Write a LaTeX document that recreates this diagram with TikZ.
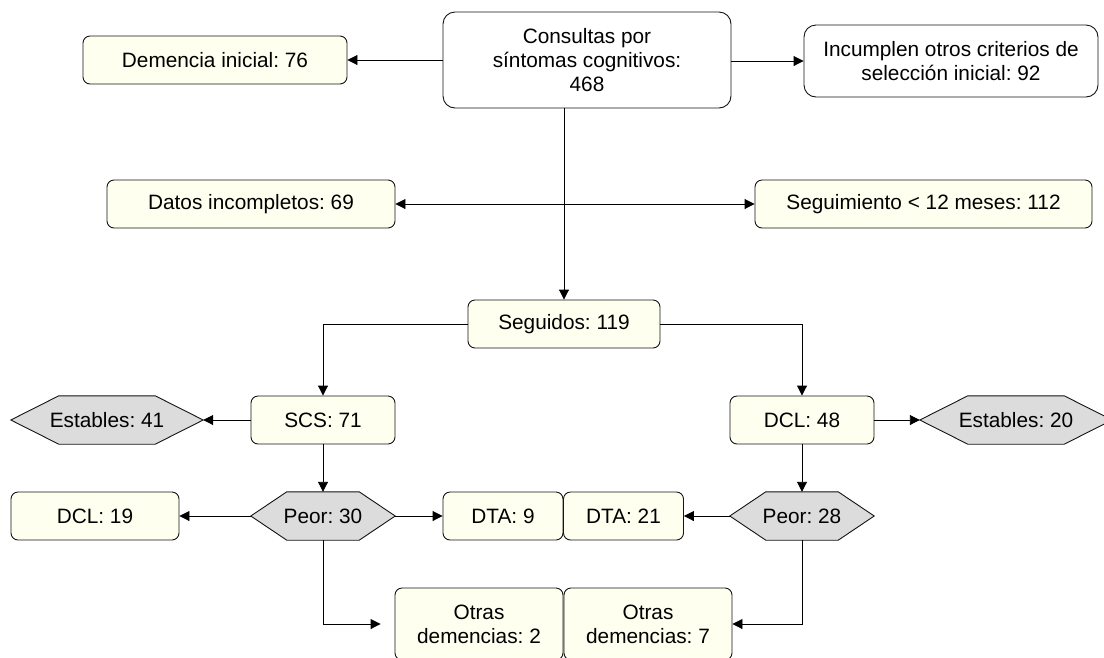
\documentclass[tikz,border=0pt]{standalone}
\usepackage{fontspec}
\setmainfont{Liberation Sans}
\frenchspacing
\usetikzlibrary{arrows.meta,backgrounds,calc}
\definecolor{cream}{RGB}{255,255,240}
\definecolor{hexgray}{RGB}{220,220,220}
\definecolor{edgecol}{RGB}{20,20,20}
\tikzset{
  every node/.style={font=\fontsize{20.8pt}{24pt}\selectfont, inner sep=0pt, align=center},
  box/.style={draw=edgecol, rounded corners=7pt, fill=cream, line width=0.9pt, minimum height=48pt},
  wbox/.style={box, fill=white, rounded corners=12pt},
  hexbox/.style={minimum height=48pt},
  arr/.style={-{Triangle[length=10pt,width=10pt]}, line width=0.9pt, draw=black},
  hexfill/.style={draw=edgecol, fill=hexgray, line width=0.9pt},
}
\newcommand{\drawhexagon}[2]{\draw[hexfill] (#1.west) -- ([xshift=#2]#1.north west) -- ([xshift=-#2]#1.north east) -- (#1.east) -- ([xshift=-#2]#1.south east) -- ([xshift=#2]#1.south west) -- cycle;}
\begin{document}
\begin{tikzpicture}[x=1pt,y=-1pt]
\useasboundingbox (0,0) rectangle (1104,657);
% top row
\node[wbox, minimum width=288pt, minimum height=96pt] (cons) at (587,60) {Consultas por\\síntomas cognitivos:\\468};
\node[box, minimum width=264pt] (dem) at (215,60) {Demencia inicial: 76};
\node[wbox, minimum width=294pt, minimum height=72pt] (inc) at (951,61) {Incumplen otros criterios de\\selección inicial: 92};
% second row
\node[box, minimum width=288pt] (datos) at (251,204) {Datos incompletos: 69};
\node[box, minimum width=337pt] (segm) at (923.5,204) {Seguimiento < 12 meses: 112};
% seguidos
\node[box, minimum width=192pt] (seg) at (564,324) {Seguidos: 119};
% third row
\node[box, minimum width=144pt] (scs) at (323,420) {SCS: 71};
\node[hexbox, minimum width=192pt] (est41) at (107,420) {Estables: 41};
\node[box, minimum width=144pt] (dcl48) at (802,420) {DCL: 48};
\node[hexbox, minimum width=192pt] (est20) at (1016,420) {Estables: 20};
% fourth row
\node[hexbox, minimum width=144pt] (peor30) at (323,516) {Peor: 30};
\node[box, minimum width=168pt] (dcl19) at (95,516) {DCL: 19};
\node[box, minimum width=120pt] (dta9) at (503,516) {DTA: 9};
\node[box, minimum width=120pt] (dta21) at (623.5,516) {DTA: 21};
\node[hexbox, minimum width=144pt] (peor28) at (802,516) {Peor: 28};
% bottom row
\node[box, minimum width=168pt, minimum height=72pt] (otr2) at (479,624) {Otras\\demencias: 2};
\node[box, minimum width=168pt, minimum height=72pt] (otr7) at (648,624) {Otras\\demencias: 7};
% hexagon outlines
\begin{scope}[on background layer]
\drawhexagon{est41}{48pt}
\drawhexagon{est20}{48pt}
\drawhexagon{peor30}{36pt}
\drawhexagon{peor28}{36pt}
\end{scope}
% connectors
\draw[arr] (cons.west) -- (dem.east);
\draw[arr] (cons.east |- inc.west) -- (inc.west);
\draw[arr] (cons.south -| seg.north) -- (seg.north);
\coordinate (j) at (seg.north |- datos.east);
\draw[arr] (j) -- (datos.east);
\draw[arr] (j) -- (segm.west);
\draw[arr] (seg.west) -| (scs.north);
\draw[arr] (seg.east) -| (dcl48.north);
\draw[arr] (scs.west) -- (est41.east);
\draw[arr] (scs.south) -- (peor30.north);
\draw[arr] (dcl48.east) -- (est20.west);
\draw[arr] (dcl48.south) -- (peor28.north);
\draw[arr] (peor30.west) -- (dcl19.east);
\draw[arr] (peor30.east) -- (dta9.west);
\draw[arr] (peor28.west) -- (dta21.east);
\draw[arr, shorten >=14pt] (peor30.south) |- (otr2.west);
\draw[arr] (peor28.south) |- (otr7.east);
\end{tikzpicture}
\end{document}
